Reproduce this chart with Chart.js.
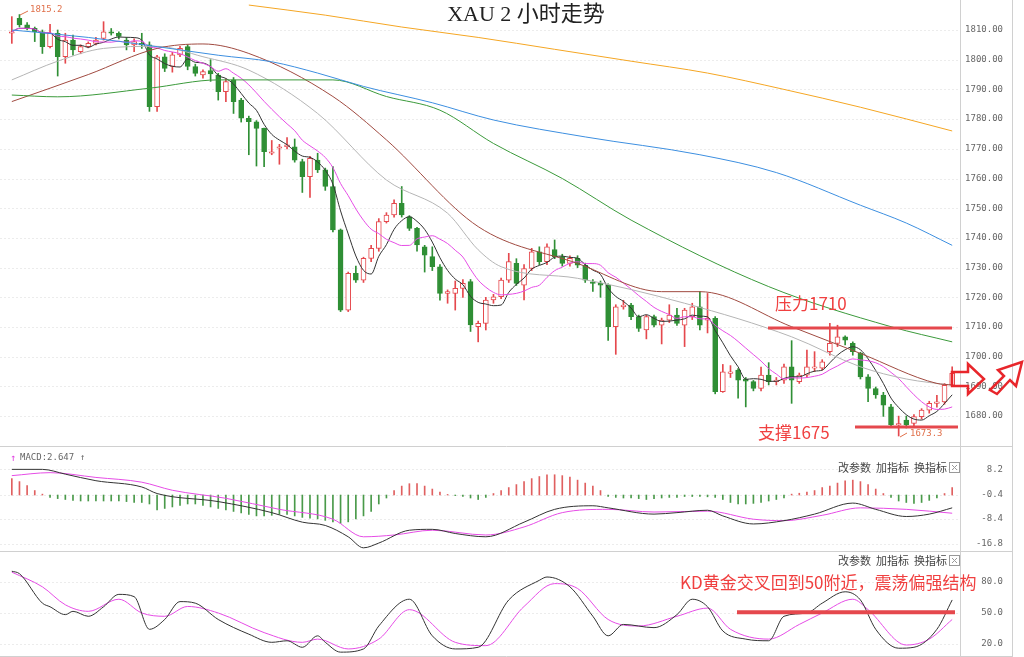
<!DOCTYPE html>
<html><head><meta charset="utf-8">
<script src="https://cdn.jsdelivr.net/npm/chart.js@4/dist/chart.umd.min.js"></script>
<style>
html,body{margin:0;padding:0;background:#fff;width:1024px;height:657px;overflow:hidden}
.c{position:absolute;left:0;width:1024px}
</style></head><body>
<div class="c" style="top:0;height:447px"><canvas id="main"></canvas></div>
<div class="c" style="top:447px;height:105px"><canvas id="macd"></canvas></div>
<div class="c" style="top:552px;height:105px"><canvas id="kd"></canvas></div>
<script>
// ---- candles ----
const opens=[1808.9,1813.9,1811.7,1810.6,1809.4,1804.4,1808.9,1801.0,1806.6,1802.7,1804.4,1805.5,1807.2,1809.4,1808.9,1806.6,1805.0,1805.5,1805.0,1784.2,1801.0,1797.7,1801.6,1804.4,1797.7,1794.9,1796.3,1794.8,1789.2,1793.2,1786.4,1780.3,1779.1,1776.9,1768.5,1770.2,1770.7,1770.7,1765.7,1760.6,1766.2,1762.9,1757.3,1742.7,1715.7,1728.1,1725.8,1733.1,1736.5,1745.5,1747.7,1751.6,1747.1,1743.2,1737.0,1733.7,1730.3,1721.3,1721.3,1723.0,1725.3,1710.1,1711.2,1719.1,1720.2,1725.8,1731.4,1724.1,1729.7,1735.3,1732.0,1736.1,1733.7,1731.4,1733.1,1730.8,1725.2,1724.7,1724.1,1710.1,1716.8,1717.4,1713.5,1709.0,1713.5,1710.6,1712.3,1714.0,1710.6,1713.5,1716.8,1712.3,1712.9,1688.2,1694.4,1695.5,1692.1,1691.6,1689.3,1693.8,1691.6,1692.1,1696.6,1691.6,1693.8,1696.1,1696.1,1701.7,1704.5,1706.7,1704.5,1701.1,1693.2,1689.3,1687.1,1683.1,1677.0,1678.7,1677.5,1679.8,1682.0,1684.3,1684.8,1690.4];
const closes=[1809.4,1811.7,1810.6,1809.4,1804.4,1808.9,1801.0,1806.6,1803.3,1804.4,1805.5,1806.6,1809.4,1808.9,1807.8,1805.0,1806.1,1805.0,1784.2,1801.0,1797.1,1801.6,1803.8,1797.7,1795.4,1796.0,1795.2,1789.2,1792.6,1785.9,1780.3,1779.1,1776.9,1769.0,1769.0,1770.7,1771.3,1766.2,1760.6,1766.8,1762.9,1757.3,1742.7,1715.7,1728.1,1725.8,1733.1,1736.5,1745.5,1747.7,1751.6,1747.7,1743.2,1737.6,1734.2,1730.3,1721.3,1721.9,1723.0,1724.7,1710.7,1711.2,1719.1,1720.2,1725.8,1732.0,1724.7,1729.7,1735.3,1732.0,1737.0,1733.7,1731.4,1733.1,1730.8,1725.8,1724.7,1724.1,1710.1,1716.8,1717.4,1713.5,1709.5,1713.5,1710.6,1712.3,1714.0,1711.2,1715.7,1716.8,1710.6,1712.9,1688.2,1694.9,1694.9,1692.1,1691.8,1689.3,1693.8,1691.6,1692.1,1696.6,1692.1,1693.8,1696.6,1696.6,1698.3,1704.5,1706.7,1705.6,1701.7,1693.2,1689.3,1687.1,1683.7,1677.0,1677.5,1677.0,1679.8,1682.0,1684.3,1684.8,1690.4,1694.4];
const highs=[1814.5,1815.2,1812.5,1811.0,1810.0,1811.9,1810.0,1808.9,1808.3,1805.0,1806.0,1807.5,1812.8,1810.5,1809.4,1807.5,1807.0,1808.9,1806.0,1801.5,1802.0,1802.5,1804.5,1805.0,1798.5,1796.6,1800.0,1795.4,1793.5,1794.0,1787.0,1781.0,1779.5,1777.0,1772.8,1771.5,1773.8,1773.3,1766.5,1767.5,1768.5,1763.5,1764.0,1743.0,1728.5,1730.5,1733.5,1737.5,1746.5,1748.5,1752.8,1757.3,1747.5,1743.6,1737.5,1737.0,1731.0,1722.5,1725.5,1726.0,1726.0,1712.0,1720.0,1721.0,1726.5,1734.8,1733.0,1731.0,1736.5,1737.0,1738.0,1739.3,1734.5,1734.0,1734.0,1731.5,1726.0,1725.5,1724.5,1717.5,1719.0,1718.0,1714.0,1714.0,1714.0,1713.0,1717.5,1716.3,1716.3,1718.0,1721.9,1721.3,1713.5,1697.4,1697.0,1696.0,1693.0,1692.0,1696.5,1698.0,1693.0,1697.5,1705.4,1694.5,1702.2,1701.7,1699.0,1711.2,1710.6,1707.0,1705.0,1701.5,1694.0,1689.8,1688.0,1684.0,1680.0,1680.0,1680.5,1682.5,1685.0,1687.0,1691.0,1696.6];
const lows=[1805.5,1811.0,1810.0,1806.1,1802.1,1804.0,1794.5,1798.8,1801.5,1802.0,1804.0,1805.0,1806.6,1808.3,1807.0,1803.3,1802.7,1803.8,1782.6,1782.6,1796.0,1795.8,1801.0,1796.6,1794.5,1793.8,1792.7,1786.4,1785.9,1781.9,1779.0,1768.0,1764.2,1764.0,1768.0,1764.8,1770.0,1765.5,1755.3,1753.6,1762.0,1756.0,1742.0,1715.2,1715.2,1725.0,1725.0,1732.0,1735.5,1745.0,1747.0,1747.0,1742.5,1735.5,1728.5,1729.0,1719.0,1718.0,1715.7,1720.0,1708.5,1705.0,1709.0,1718.0,1719.5,1725.0,1724.0,1719.1,1729.0,1731.0,1731.0,1733.0,1730.5,1730.5,1730.0,1725.0,1722.0,1720.0,1705.5,1700.8,1716.0,1712.5,1708.5,1706.0,1710.0,1704.3,1711.5,1710.5,1703.4,1712.5,1709.0,1708.0,1687.5,1688.0,1693.0,1686.0,1683.1,1688.5,1688.5,1690.5,1690.5,1691.0,1684.3,1691.0,1693.0,1695.0,1695.5,1700.5,1703.4,1704.0,1700.5,1692.5,1684.9,1686.0,1679.9,1676.5,1673.3,1676.0,1676.5,1679.0,1681.0,1683.0,1684.0,1690.0];
// moving averages: [candle index, value]
const maGray=[[0,1793.2],[6,1799.5],[12,1803.8],[19,1804.5],[25,1801],[31,1796.5],[40,1781.9],[49,1759.5],[57,1748.3],[61,1736],[64,1730.3],[74,1726.4],[88,1718],[102,1706.7],[111,1696.6],[117,1692.5],[123,1690.4]];
const maBrown=[[0,1785.9],[10,1795],[19,1803.8],[25,1805.3],[31,1802.1],[42,1787.6],[49,1773],[61,1743.8],[74,1731.4],[85,1721.9],[90,1721.9],[102,1710.1],[111,1701.1],[121,1691],[123,1690.5]];
const maGreen=[[0,1788.1],[6,1787.5],[18,1790.4],[27,1793.2],[42,1793.2],[49,1787.6],[56,1783],[63,1771.8],[72,1760],[81,1746],[99,1723.6],[115,1710.1],[123,1705]];
const maBlue=[[0,1810],[10,1807.5],[19,1804.4],[27,1801.5],[34,1799.3],[40,1795.5],[46,1791],[55,1785.5],[63,1779.7],[75,1774],[90,1768],[100,1762],[111,1751],[117,1745],[123,1737.5]];
const maOrange=[[31,1818.4],[41,1815],[51,1811],[61,1807.5],[71,1803.5],[81,1799.5],[91,1795.5],[101,1790],[111,1784],[123,1776]];
// MACD
const macdHist=[5.5,4.5,3.2,1.5,0.3,-0.8,-1.2,-1.5,-1.8,-2,-2,-2,-2,-2,-2,-2.2,-2.5,-2.5,-3,-5,-4.5,-4,-3.5,-3,-3,-3.5,-4,-4.5,-5,-5.5,-6,-6.5,-7,-7,-6.8,-6.5,-6.5,-7,-7.5,-7.8,-8,-8.5,-9,-9.5,-9,-8,-7,-5.5,-3,-1,1.5,3.0,3.8,3.8,3,2,1,0.2,-0.2,-0.5,-1,-1.5,-0.8,0.5,1.5,2.5,3.5,4.5,5.5,6.2,6.8,6.8,6.5,6,5,4,3,1.5,-0.5,-0.8,-1,-1,-1.2,-1.5,-1.2,-1,-0.8,-0.8,-0.5,-0.5,-0.5,-0.6,-0.8,-1.5,-2.5,-3,-3,-2.8,-2.5,-2,-1.5,-1,0.3,0.6,1,1.5,2.5,3,4,4.8,5,4.5,3.5,2,0.5,-0.8,-2,-2.5,-2.8,-2.5,-1.8,-1,0.5,2.5];
const macdDif=[[0,8.2],[4,8.2],[7,6.6],[11,4.4],[17,2.3],[19,0.1],[27,-2.6],[34,-6.3],[38,-9.5],[41,-10.6],[44,-14.4],[46,-18.1],[48,-16.5],[52,-12.2],[55,-11.9],[58,-13.3],[62,-14.4],[67,-9.5],[71,-5.2],[76,-4],[78,-4.7],[84,-6.8],[87,-6.3],[91,-5.5],[93,-7.4],[97,-10.1],[101,-9],[105,-6.8],[110,-3.1],[113,-5.2],[117,-7.6],[120,-6.8],[123,-4.7]];
const macdDea=[[0,6.1],[5,7.1],[11,5.5],[17,3.9],[21,1.2],[28,-1.5],[35,-5.2],[42,-8.5],[46,-14.4],[50,-13.8],[55,-12.2],[62,-13.8],[67,-11.1],[72,-6.3],[78,-5.2],[84,-6.1],[91,-5.8],[97,-8.5],[101,-9],[106,-7.2],[111,-4.7],[117,-5.2],[123,-6.5]];
// KD
const kdK=[[0,90.4],[1,88],[4,59.5],[5,56],[7,48.4],[8,51.6],[10,46.8],[12,56],[14,68],[16,65.8],[18,34.2],[20,43.7],[22,61],[24,59.5],[27,43.7],[31,29.5],[34,21.6],[36,23.1],[38,16.8],[40,27.9],[41,21.6],[43,12.1],[46,15.2],[48,37.4],[52,63.3],[55,27.9],[58,15.2],[61,16.8],[65,62.6],[69,81.6],[70,84.8],[73,75.3],[76,46.8],[78,27.9],[80,38.9],[84,35.8],[87,48.4],[89,63.3],[91,56],[93,32.6],[96,24.7],[99,23.1],[101,46.8],[104,50],[106,59.5],[109,70.5],[111,62.6],[113,34.2],[116,15.9],[118,16.8],[121,34.2],[123,62.6]];
const kdD=[[0,89.5],[4,75.3],[7,57.9],[10,51.6],[14,63.3],[17,50],[20,46.8],[23,56.3],[27,50],[33,31],[38,21.6],[40,24.7],[44,15.2],[48,24.7],[52,53.2],[58,21.6],[62,18.4],[67,56.3],[71,78.4],[74,73.7],[78,43.7],[82,37.4],[87,46.8],[91,54.7],[94,34.2],[99,24.7],[103,38.9],[106,50],[110,63.3],[112,53.2],[117,19],[120,24.7],[123,43.7]];
const priceTicks=[1680,1690,1700,1710,1720,1730,1740,1750,1760,1770,1780,1790,1800,1810];
const macdTicks=[8.2,-0.4,-8.4,-16.8];
const kdTicks=[80,50,20];

const N=opens.length, labels=[...Array(N).keys()];
const G='#2f8f35', R='#e5484d';
function series(p){const a=Array(N).fill(null);p.forEach(([i,v])=>a[i]=v);return a;}
function ma(n){return closes.map((c,i)=>{const s=closes.slice(Math.max(0,i-n+1),i+1);return s.reduce((a,b)=>a+b,0)/s.length;});}
function line(data,color,w){return {type:'line',data,borderColor:color,borderWidth:w||1,pointRadius:0,spanGaps:true,cubicInterpolationMode:'monotone',fill:false,order:0};}
const RIGHT=68, LEFT=8;
function baseOpts(min,max){return {responsive:true,maintainAspectRatio:false,animation:false,
 layout:{padding:{left:LEFT,right:RIGHT,top:0,bottom:0}},
 plugins:{legend:{display:false},tooltip:{enabled:false}},
 scales:{x:{display:false,offset:true},y:{display:false,min,max}}};}
function axisPlugin(ticks,fmt,extra){return {id:'ax',beforeDatasetsDraw(c){const y=c.scales.y,ctx=c.ctx;ctx.save();ctx.strokeStyle='#ececec';ctx.setLineDash([2,2]);ctx.lineWidth=1;
 ticks.forEach(t=>{const py=Math.round(y.getPixelForValue(t))+0.5;ctx.beginPath();ctx.moveTo(0,py);ctx.lineTo(960,py);ctx.stroke();});ctx.restore();},
 afterDraw(c){const y=c.scales.y,ctx=c.ctx;ctx.save();ctx.strokeStyle='#d0d0d0';ctx.lineWidth=1;
 ctx.beginPath();ctx.moveTo(960.5,0);ctx.lineTo(960.5,c.height);ctx.moveTo(1012.5,0);ctx.lineTo(1012.5,c.height);ctx.moveTo(0,c.height-0.5);ctx.lineTo(1013,c.height-0.5);ctx.stroke();
 ctx.fillStyle='#666';ctx.font='9px "DejaVu Sans Mono"';ctx.textBaseline='middle';ctx.textAlign='right';
 ticks.forEach(t=>ctx.fillText(fmt(t),1003,y.getPixelForValue(t)));
 if(extra)extra(c,ctx);ctx.restore();}};}
function header(ctx,y){ctx.fillStyle='#444';ctx.font='11px "Noto Sans CJK SC"';ctx.textAlign='left';ctx.textBaseline='middle';
 ctx.fillText('改参数',838,y);ctx.fillText('加指标',876,y);ctx.fillText('换指标',914,y);
 ctx.strokeStyle='#999';ctx.strokeRect(949.5,y-5.5,10,10);ctx.beginPath();ctx.moveTo(952,y-3);ctx.lineTo(957,y+2);ctx.moveTo(957,y-3);ctx.lineTo(952,y+2);ctx.stroke();}

// main chart
new Chart(document.getElementById('main'),{type:'bar',data:{labels,datasets:[
 line(maOrange,'#f5a623'),line(maBlue,'#3d8fe0'),line(maGreen,'#3b9a3b'),line(maBrown,'#a04a40'),line(maGray,'#b5b5b5'),
 line(ma(10),'#e64ce6'),line(ma(5),'#333333'),
 {type:'bar',data:opens.map((o,i)=>[Math.min(o,closes[i]),Math.max(o,closes[i])+ (Math.abs(o-closes[i])<0.3?0.3:0)]),grouped:false,barThickness:5,
  backgroundColor:opens.map((o,i)=>closes[i]>=o?'#ffffff':G),borderColor:opens.map((o,i)=>closes[i]>=o?R:G),borderWidth:1,borderSkipped:false,order:1},
 {type:'bar',data:highs.map((h,i)=>[lows[i],h]),grouped:false,barThickness:1,backgroundColor:opens.map((o,i)=>closes[i]>=o?R:G),order:2}
]},options:baseOpts(1669.6,1820.1),plugins:[axisPlugin(priceTicks,t=>t.toFixed(2),(c,ctx)=>{
 const y=c.scales.y,x=c.scales.x;
 ctx.fillStyle='#222';ctx.font='22px "Liberation Serif","Noto Sans CJK SC"';ctx.textAlign='center';ctx.textBaseline='middle';ctx.fillText('XAU 2 小时走势',526,15);
 ctx.strokeStyle=R;ctx.lineWidth=3;
 let py=y.getPixelForValue(1709.7);ctx.beginPath();ctx.moveTo(768,py);ctx.lineTo(952,py);ctx.stroke();
 py=y.getPixelForValue(1676.3);ctx.beginPath();ctx.moveTo(855,py);ctx.lineTo(958,py);ctx.stroke();
 ctx.fillStyle='#f04040';ctx.font='17px "Noto Sans CJK SC"';ctx.textAlign='left';
 ctx.fillText('压力1710',775,y.getPixelForValue(1718));ctx.fillText('支撑1675',758,y.getPixelForValue(1674.5));
 ctx.font='9px "DejaVu Sans Mono"';ctx.fillStyle='#e0704a';ctx.fillText('1815.2',30,10);
 ctx.strokeStyle='#e0704a';ctx.lineWidth=1;ctx.beginPath();ctx.moveTo(28,11);ctx.lineTo(20,15);ctx.stroke();
 ctx.fillText('1673.3',910,434);ctx.beginPath();ctx.moveTo(907,433);ctx.lineTo(900,437);ctx.stroke();
 // arrows
 ctx.strokeStyle='#e8262b';ctx.lineWidth=2.5;ctx.lineJoin='miter';
 ctx.beginPath();[[952,372],[968,372],[968,364],[984,379],[968,394],[968,386],[952,386]].forEach((p,i)=>i?ctx.lineTo(p[0],p[1]):ctx.moveTo(p[0],p[1]));ctx.closePath();ctx.stroke();
 ctx.beginPath();[[990,390],[1004,376],[998,370],[1022,362],[1016,386],[1010,380],[997,394]].forEach((p,i)=>i?ctx.lineTo(p[0],p[1]):ctx.moveTo(p[0],p[1]));ctx.closePath();ctx.stroke();
})]});

// MACD
new Chart(document.getElementById('macd'),{type:'bar',data:{labels,datasets:[
 line(series(macdDif),'#333333'),line(series(macdDea),'#e64ce6'),
 {type:'bar',data:macdHist.map(v=>[-0.4,-0.4+v]),barThickness:1,backgroundColor:macdHist.map(v=>v>=0?'#e06060':'#4a9a4a'),order:2}
]},options:baseOpts(-19.5,15.7),plugins:[axisPlugin(macdTicks,t=>t.toFixed(1),(c,ctx)=>{
 ctx.fillStyle='#e040e0';ctx.font='10px "DejaVu Sans Mono"';ctx.textAlign='left';ctx.textBaseline='middle';
 ctx.fillText('↑',10,11);ctx.fillStyle='#666';ctx.font='9px "DejaVu Sans Mono"';ctx.fillText('MACD:2.647',20,11);ctx.fillText('↑',80,11);
 header(ctx,21);})]});

// KD
new Chart(document.getElementById('kd'),{type:'line',data:{labels,datasets:[
 line(series(kdK),'#333333'),line(series(kdD),'#e64ce6')
]},options:baseOpts(7.4,109),plugins:[axisPlugin(kdTicks,t=>t.toFixed(1),(c,ctx)=>{
 header(ctx,9);const y=c.scales.y;
 ctx.strokeStyle=R;ctx.lineWidth=4;const py=y.getPixelForValue(50.7);ctx.beginPath();ctx.moveTo(737,py);ctx.lineTo(955,py);ctx.stroke();
 ctx.fillStyle='#f04040';ctx.font='17px "Noto Sans CJK SC"';ctx.textAlign='left';ctx.textBaseline='middle';
 ctx.fillText('KD黄金交叉回到50附近，震荡偏强结构',680,31);})]});
</script></body></html>
